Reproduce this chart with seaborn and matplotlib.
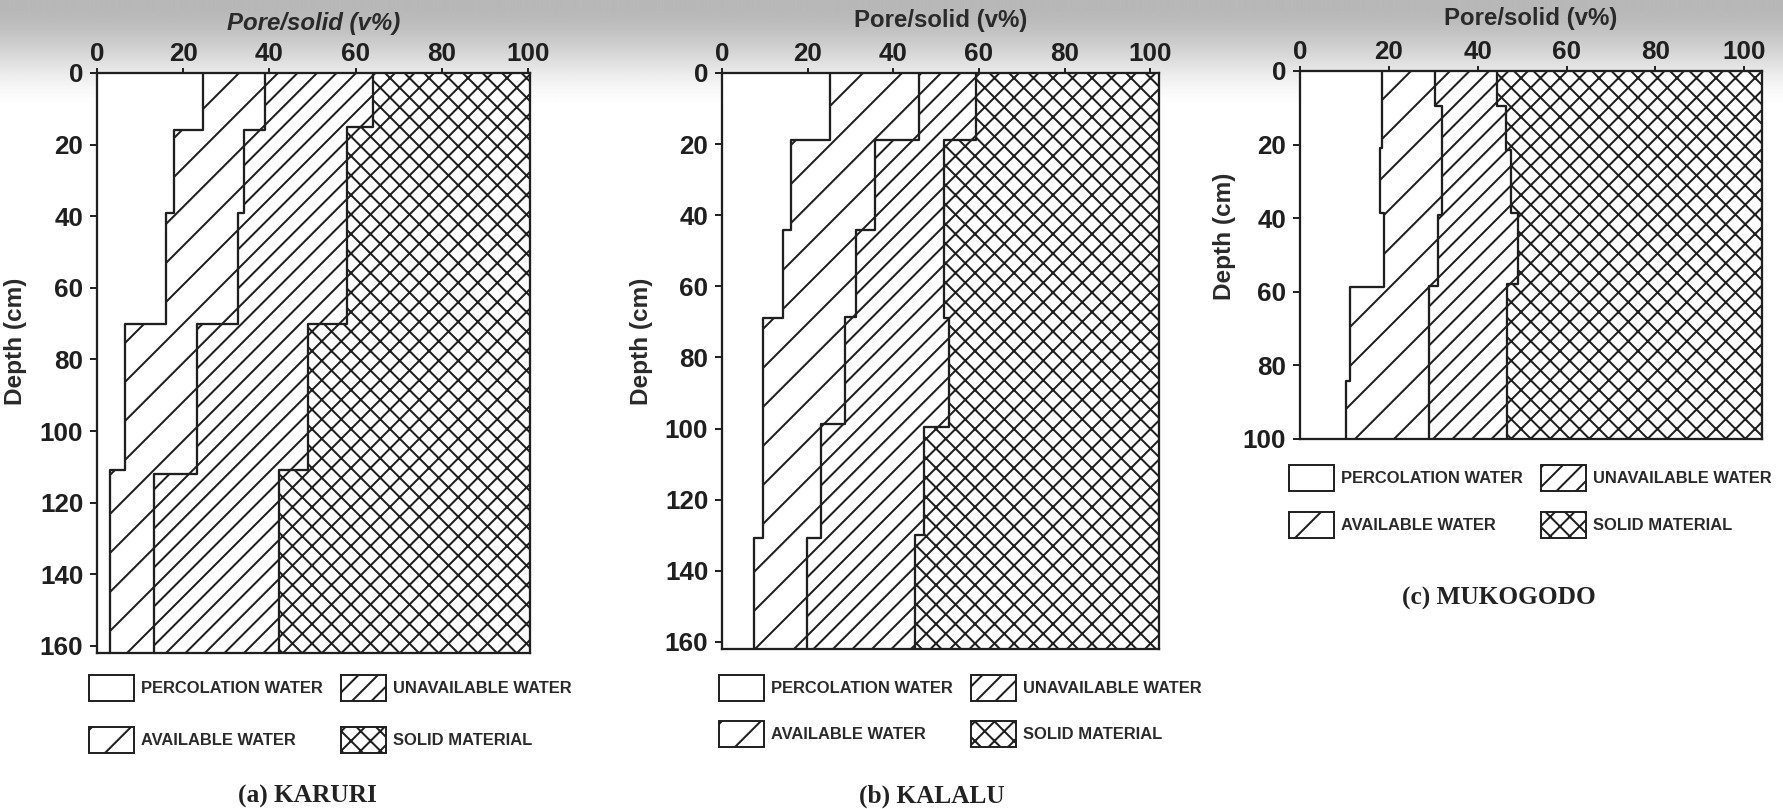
import numpy as np
import matplotlib
matplotlib.use("Agg")
import matplotlib.pyplot as plt
import seaborn as sns
from matplotlib.patches import Patch

# ---------------- data ----------------
categories = ["PERCOLATION WATER", "AVAILABLE WATER", "UNAVAILABLE WATER", "SOLID MATERIAL"]
panel_titles = ["(a) KARURI", "(b) KALALU", "(c) MUKOGODO"]
x_ticks = [0, 20, 40, 60, 80, 100]
depth_ticks_long = [0, 20, 40, 60, 80, 100, 120, 140, 160]
depth_ticks_short = [0, 20, 40, 60, 80, 100]

# cumulative upper limit (v%) of each layer as step profiles:
# depth where each step starts (cm) and the value in that step
# (a) KARURI
karuri_perc_depth = [0, 16, 39, 70, 111]
karuri_perc = [24.6, 17.9, 16.1, 6.6, 3.1]
karuri_avail_depth = [0, 16, 39, 70, 112]
karuri_avail = [38.9, 34.1, 32.7, 23.2, 13.3]
karuri_pore_depth = [0, 15, 70, 111]
karuri_pore = [64.0, 58.0, 48.9, 42.2]

# (b) KALALU
kalalu_perc_depth = [0, 18.8, 44.1, 68.8, 130.7]
kalalu_perc = [25.1, 16.0, 14.3, 9.6, 7.5]
kalalu_avail_depth = [0, 18.8, 44.1, 68.5, 98.8, 130.7]
kalalu_avail = [46.0, 35.7, 31.2, 28.6, 23.0, 19.9]
kalalu_pore_depth = [0, 18.8, 69.0, 99.6, 129.8]
kalalu_pore = [59.2, 51.9, 53.1, 47.2, 45.1]

# (c) MUKOGODO
mukogodo_perc_depth = [0, 20.9, 38.5, 58.8, 84.3]
mukogodo_perc = [18.4, 17.9, 18.8, 11.3, 10.4]
mukogodo_avail_depth = [0, 9.4, 39.0, 58.3]
mukogodo_avail = [30.4, 32.0, 31.0, 29.0]
mukogodo_pore_depth = [0, 9.4, 21.4, 38.5, 58.0]
mukogodo_pore = [44.3, 46.3, 47.4, 49.0, 46.7]

# ---------------- style ----------------
DPI = 234
W, H = 1783, 809
INK = "#1f1f1f"
HATCHES = ["", "//", "////", "xxxx"]

sns.set_theme(style="white")
plt.rcParams["font.family"] = ["Liberation Sans", "DejaVu Sans"]
plt.rcParams["hatch.linewidth"] = 0.62
plt.rcParams["hatch.color"] = INK

fig = plt.figure(figsize=(W / DPI, H / DPI), dpi=DPI)

# scanned-page background: grey band fading out at the top
bg = fig.add_axes([0, 0, 1, 1], zorder=-10)
yy = np.arange(H, dtype=float)
t = np.clip((yy - 5) / 105, 0, 1)
shade = 0.72 + 0.28 * (t * t * (3 - 2 * t))
bg.imshow(np.tile(shade[:, None], (1, 8)), cmap="gray", vmin=0, vmax=1,
          aspect="auto", extent=[0, 1, 0, 1], origin="upper")
bg.set_axis_off()


def px_rect(left, top, right, bottom):
    return [left / W, 1 - bottom / H, (right - left) / W, (bottom - top) / H]


panels = [
    dict(rect=px_rect(97, 73, 530, 653), xmax=100.5, bottom=162, yticks=depth_ticks_long,
         profiles=[(karuri_perc_depth, karuri_perc), (karuri_avail_depth, karuri_avail),
                   (karuri_pore_depth, karuri_pore)],
         italic=True, ylabelpad=4.0, ylabel_y=0.538, xlabelpad=3.5,
         leg=(89, 675), legspace=1.6, cap=(307, 796)),
    dict(rect=px_rect(722, 73, 1159, 649), xmax=102, bottom=162, yticks=depth_ticks_long,
         profiles=[(kalalu_perc_depth, kalalu_perc), (kalalu_avail_depth, kalalu_avail),
                   (kalalu_pore_depth, kalalu_pore)],
         italic=False, ylabelpad=3.5, ylabel_y=0.535, xlabelpad=4.5,
         leg=(719, 675), legspace=1.25, cap=(932, 796)),
    dict(rect=px_rect(1300, 71, 1762, 439), xmax=104, bottom=100, yticks=depth_ticks_short,
         profiles=[(mukogodo_perc_depth, mukogodo_perc), (mukogodo_avail_depth, mukogodo_avail),
                   (mukogodo_pore_depth, mukogodo_pore)],
         italic=False, ylabelpad=2.0, ylabel_y=0.55, xlabelpad=4.5,
         leg=(1289, 465), legspace=1.3, cap=(1499, 598)),
]

for p, title in zip(panels, panel_titles):
    ax = fig.add_axes(p["rect"])
    ax.set_facecolor("white")
    bottom, xmax = p["bottom"], p["xmax"]

    # common depth grid from all step profiles
    ys = sorted({float(d) for dep, _ in p["profiles"] for d in dep})
    ys = np.array(ys + [bottom], float)
    cols = []
    for dep, val in p["profiles"]:
        idx = np.searchsorted(np.asarray(dep, float), ys, side="right") - 1
        cols.append(np.asarray(val, float)[idx])
    zero = np.zeros_like(ys)
    full = np.full_like(ys, xmax)
    bounds = [zero] + cols + [full]
    for i, h in enumerate(HATCHES):
        ax.fill_betweenx(ys, bounds[i], bounds[i + 1], step="post",
                         facecolor="white", edgecolor=INK, hatch=h, linewidth=0)

    # outline of each boundary
    for dep, val in p["profiles"]:
        xs = list(val) + [val[-1]]
        yv = list(dep) + [bottom]
        sns.lineplot(x=xs, y=yv, sort=False, estimator=None, drawstyle="steps-pre",
                     color=INK, linewidth=0.7, ax=ax)

    ax.set_xlim(0, xmax)
    ax.set_ylim(bottom, 0)
    ax.set_xticks(x_ticks)
    ax.set_yticks(p["yticks"])
    ax.xaxis.tick_top()
    ax.xaxis.set_label_position("top")
    ax.tick_params(axis="x", top=True, bottom=False, labeltop=True, labelbottom=False,
                   direction="out", length=1.5, width=0.6, pad=0.8, colors=INK,
                   labelsize=8.0)
    ax.tick_params(axis="y", left=True, direction="out", length=2.2, width=0.6,
                   pad=2.0, colors=INK, labelsize=8.0)
    for lab in ax.get_xticklabels() + ax.get_yticklabels():
        lab.set_fontweight("bold")
    for s in ax.spines.values():
        s.set_visible(True)
        s.set_color(INK)
        s.set_linewidth(0.7)

    ax.set_xlabel("Pore/solid (v%)", fontsize=7.4, fontweight="bold", color="#2a2a2a",
                  fontstyle="italic" if p["italic"] else "normal", labelpad=p["xlabelpad"])
    ax.set_ylabel("Depth (cm)", fontsize=7.5, fontweight="bold", color="#2a2a2a",
                  labelpad=p["ylabelpad"])
    ax.yaxis.label.set_y(p["ylabel_y"])

    handles = [Patch(facecolor="white", edgecolor=INK, hatch=h, linewidth=0.6)
               for h in HATCHES]
    lx, ly = p["leg"]
    fig.legend(handles, categories, ncol=2, loc="upper left",
               bbox_to_anchor=(lx / W, 1 - ly / H), frameon=False,
               prop=dict(family=["Liberation Sans", "DejaVu Sans"], weight="bold", size=5.1),
               handlelength=2.7, handleheight=2.0, handletextpad=0.45,
               columnspacing=1.1, labelspacing=p["legspace"],
               borderpad=0, borderaxespad=0, labelcolor="#2a2a2a")

    cx, cy = p["cap"]
    fig.text(cx / W, 1 - cy / H, title, ha="center", va="center",
             family=["Liberation Serif", "DejaVu Serif"], fontweight="bold",
             fontsize=7.8, color="#222222")

fig.savefig("out.png", dpi=DPI)
